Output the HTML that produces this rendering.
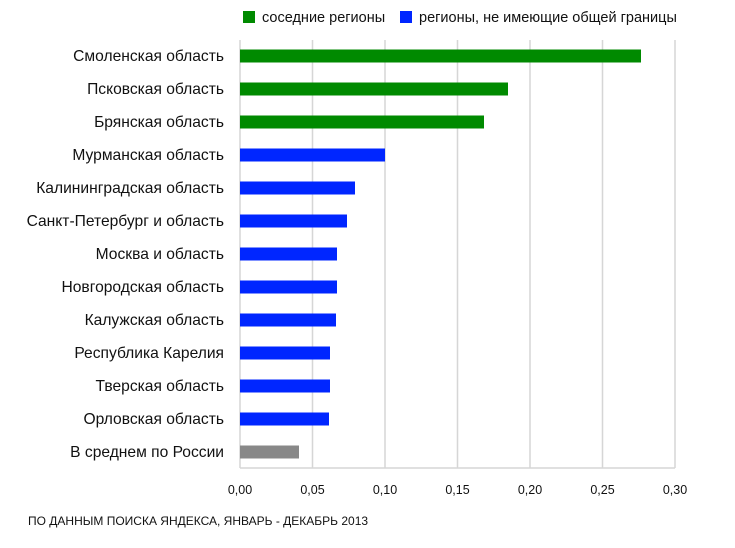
<!DOCTYPE html>
<html><head><meta charset="utf-8"><style>
body{margin:0;background:#fff;}
svg text{font-family:"Liberation Sans",sans-serif;fill:#111;}
</style></head><body>
<svg width="735" height="543" xmlns="http://www.w3.org/2000/svg">
<rect width="735" height="543" fill="#fff"/>
<g stroke="#d6d6d6" stroke-width="1.5">
<line x1="240" y1="40" x2="240" y2="468"/><line x1="312.5" y1="40" x2="312.5" y2="468"/>
<line x1="385" y1="40" x2="385" y2="468"/><line x1="457.5" y1="40" x2="457.5" y2="468"/>
<line x1="530" y1="40" x2="530" y2="468"/><line x1="602.5" y1="40" x2="602.5" y2="468"/>
<line x1="675" y1="40" x2="675" y2="468"/><line x1="240" y1="468" x2="675" y2="468"/>
</g>
<rect x="243" y="11" width="12" height="12" fill="#008a00"/>
<text x="262" y="22" font-size="14.5">соседние регионы</text>
<rect x="400" y="11" width="12" height="12" fill="#0026ff"/>
<text x="419" y="22" font-size="14.5">регионы, не имеющие общей границы</text>
<g font-size="15.6" text-anchor="end">
<text x="224" y="61">Смоленская область</text>
<text x="224" y="94">Псковская область</text>
<text x="224" y="127">Брянская область</text>
<text x="224" y="160">Мурманская область</text>
<text x="224" y="193">Калининградская область</text>
<text x="224" y="226">Санкт-Петербург и область</text>
<text x="224" y="259">Москва и область</text>
<text x="224" y="292">Новгородская область</text>
<text x="224" y="325">Калужская область</text>
<text x="224" y="358">Республика Карелия</text>
<text x="224" y="391">Тверская область</text>
<text x="224" y="424">Орловская область</text>
<text x="224" y="457">В среднем по России</text>
</g>
<g>
<rect x="240" y="49.5" width="401" height="13" fill="#008a00"/>
<rect x="240" y="82.5" width="268" height="13" fill="#008a00"/>
<rect x="240" y="115.5" width="244" height="13" fill="#008a00"/>
<rect x="240" y="148.5" width="145" height="13" fill="#0026ff"/>
<rect x="240" y="181.5" width="115" height="13" fill="#0026ff"/>
<rect x="240" y="214.5" width="107" height="13" fill="#0026ff"/>
<rect x="240" y="247.5" width="97" height="13" fill="#0026ff"/>
<rect x="240" y="280.5" width="97" height="13" fill="#0026ff"/>
<rect x="240" y="313.5" width="96" height="13" fill="#0026ff"/>
<rect x="240" y="346.5" width="90" height="13" fill="#0026ff"/>
<rect x="240" y="379.5" width="90" height="13" fill="#0026ff"/>
<rect x="240" y="412.5" width="89" height="13" fill="#0026ff"/>
<rect x="240" y="445.5" width="59" height="13" fill="#888"/>
</g>
<g font-size="12.5" text-anchor="middle">
<text x="240" y="494">0,00</text><text x="312.5" y="494">0,05</text>
<text x="385" y="494">0,10</text><text x="457.5" y="494">0,15</text>
<text x="530" y="494">0,20</text><text x="602.5" y="494">0,25</text>
<text x="675" y="494">0,30</text>
</g>
<text x="28" y="525" font-size="12">ПО ДАННЫМ ПОИСКА ЯНДЕКСА, ЯНВАРЬ - ДЕКАБРЬ 2013</text>
</svg>
</body></html>
